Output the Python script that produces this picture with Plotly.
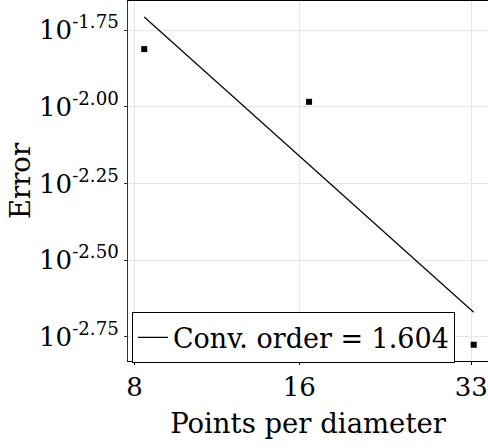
import plotly.graph_objects as go

# Data
points_per_diameter = [8.33, 16.67, 33.33]
error_values = [0.01542, 0.01038, 0.001675]
fit_x = [8.33, 33.33]
fit_y = [0.01963, 0.002138]
conv_label = "Conv. order = 1.604"

x_tickvals = [8, 16, 33]
x_ticktext = ["8", "16", "33"]
y_exponents = ["-1.75", "-2.00", "-2.25", "-2.50", "-2.75"]
y_tickvals = [10 ** float(e) for e in y_exponents]
y_ticktext = ["10<sup>%s</sup>" % e for e in y_exponents]

FONT = "DejaVu Serif"

fig = go.Figure()
fig.add_trace(go.Scatter(
    x=points_per_diameter, y=error_values, mode="markers",
    marker=dict(symbol="square", size=6, color="black"),
    showlegend=False,
))
fig.add_trace(go.Scatter(
    x=fit_x, y=fit_y, mode="lines",
    line=dict(color="black", width=1.2),
    name=conv_label, showlegend=True,
))

fig.update_layout(
    width=488, height=448,
    margin=dict(l=128, r=0, t=1, b=87, autoexpand=False),
    paper_bgcolor="white", plot_bgcolor="white",
    font=dict(family=FONT, size=27, color="black"),
    legend=dict(
        x=0.011, y=0.135, xanchor="left", yanchor="top",
        bordercolor="black", borderwidth=1, bgcolor="white",
        font=dict(family=FONT, size=27, color="black"),
        itemwidth=30, tracegroupgap=0,
    ),
    xaxis=dict(
        type="log", range=[0.891, 1.549],
        tickvals=x_tickvals, ticktext=x_ticktext,
        showgrid=True, gridcolor="#e6e6e6", gridwidth=1,
        showline=True, linecolor="black", linewidth=1, mirror=True,
        ticks="outside", ticklen=3, tickcolor="black",
        zeroline=False,
        title=dict(text="Points per diameter", standoff=12,
                   font=dict(family=FONT, size=27.5)),
        tickfont=dict(family=FONT, size=26),
        automargin=False,
    ),
    yaxis=dict(
        type="log", range=[-2.829, -1.655],
        tickvals=y_tickvals, ticktext=y_ticktext,
        showgrid=True, gridcolor="#e6e6e6", gridwidth=1,
        showline=True, linecolor="#333333", linewidth=1, mirror=False,
        ticks="outside", ticklen=3, tickcolor="#333333",
        zeroline=False,
        title=dict(text="Error", standoff=0,
                   font=dict(family=FONT, size=27.5)),
        tickfont=dict(family=FONT, size=26),
        automargin=False,
    ),
)

fig.write_html("out.html", config={"displayModeBar": False},
               post_script="document.body.style.margin='0px';")
